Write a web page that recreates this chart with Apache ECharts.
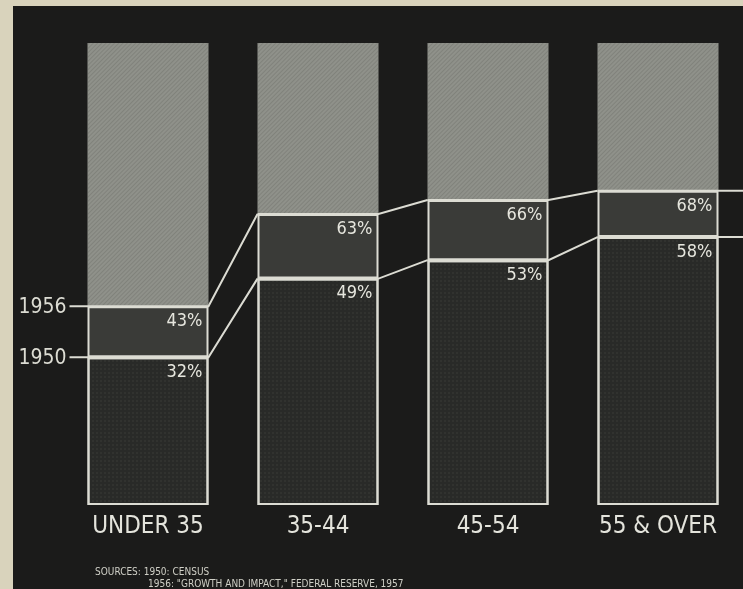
<!DOCTYPE html>
<html>
<head>
<meta charset="utf-8">
<script src="https://cdn.jsdelivr.net/npm/echarts@6/dist/echarts.min.js"></script>
<style>
  html, body { margin: 0; padding: 0; background: #d9d3bc; }
  #chart { width: 743px; height: 589px; }
</style>
</head>
<body>
<div id="chart"></div>
<script>
// data
const categories = ['UNDER 35', '35-44', '45-54', '55 & OVER']
const share1950 = [32, 49, 53, 58]
const share1956 = [43, 63, 66, 68]
const sourceLines = ['SOURCES: 1950: CENSUS', '1956: "GROWTH AND IMPACT," FEDERAL RESERVE, 1957']

const gain = share1956.map((v, i) => v - share1950[i])
const rest = share1956.map((v) => 100 - v)

const font = '"DejaVu Sans Condensed", "Liberation Sans Narrow", "DejaVu Sans", sans-serif'
const ink = '#dcdcd3'
const barWidth = 121
const half = barWidth / 2

const chart = echarts.init(document.getElementById('chart'))

// white step line joining the level of each bar, with the year tag on the left
const stepLine = (values, year) => (params, api) => {
  const i = params.dataIndex
  const p = api.coord([i, values[i]])
  const pts = [[p[0] - half, p[1]], [p[0] + half, p[1]]]
  if (i < values.length - 1) {
    const q = api.coord([i + 1, values[i + 1]])
    pts.push([q[0] - half, q[1]])
  } else {
    pts.push([api.getWidth(), p[1]])
  }
  const children = []
  if (i === 0) {
    pts.unshift([p[0] - half - 18, p[1]])
    children.push({
      type: 'text',
      style: {
        text: year,
        x: p[0] - half - 21,
        y: p[1] + 1,
        align: 'right',
        verticalAlign: 'middle',
        fill: ink,
        fontSize: 21,
        fontFamily: font,
      },
    })
  }
  children.push({
    type: 'polyline',
    shape: { points: pts },
    style: { stroke: ink, lineWidth: 2, fill: null },
  })
  return { type: 'group', children }
}

const pctLabel = (arr) => ({
  show: true,
  position: 'insideTopRight',
  distance: 6,
  formatter: (p) => arr[p.dataIndex] + '%',
  color: '#e6e6de',
  fontSize: 18,
  fontFamily: font,
})

chart.setOption({
  backgroundColor: '#d9d3bc',
  animation: false,
  grid: { left: 63, top: 43, width: 684, height: 462 },
  graphic: [
    { type: 'rect', z: -10, shape: { x: 13, y: 6, width: 730, height: 583 }, style: { fill: '#1b1b1a' } },
    { type: 'text', z: 10, style: { text: sourceLines[0], x: 95, y: 572, verticalAlign: 'middle', fill: '#cfcfc6', fontSize: 10, fontFamily: font } },
    { type: 'text', z: 10, style: { text: sourceLines[1], x: 148, y: 584, verticalAlign: 'middle', fill: '#cfcfc6', fontSize: 10, fontFamily: font } },
  ],
  xAxis: {
    type: 'category',
    data: categories,
    axisLine: { show: false },
    axisTick: { show: false },
    axisLabel: { color: '#e4e4dc', fontSize: 24, margin: 10, fontFamily: font },
  },
  yAxis: { type: 'value', min: 0, max: 100, show: false },
  series: [
    {
      name: '1950',
      type: 'bar',
      stack: 'share',
      barWidth,
      data: share1950,
      itemStyle: {
        color: '#292a28',
        borderColor: ink,
        borderWidth: 2,
        decal: { symbol: 'circle', symbolSize: 0.7, dashArrayX: 2, dashArrayY: 2, color: 'rgba(120,120,112,0.3)' },
      },
      label: pctLabel(share1950),
    },
    {
      name: '1956',
      type: 'bar',
      stack: 'share',
      barWidth,
      data: gain,
      itemStyle: { color: '#3a3b38', borderColor: ink, borderWidth: 2 },
      label: pctLabel(share1956),
    },
    {
      name: 'rest',
      type: 'bar',
      stack: 'share',
      barWidth,
      data: rest,
      itemStyle: {
        color: '#8f918a',
        decal: { symbol: 'rect', symbolSize: 1, dashArrayX: [1, 0], dashArrayY: [1, 2], rotation: -Math.PI / 4, color: 'rgba(70,70,64,0.2)' },
      },
    },
    {
      type: 'custom',
      z: 5,
      renderItem: stepLine(share1956, '1956'),
      encode: { x: 0, y: 1 },
      data: share1956.map((v, i) => [i, v]),
    },
    {
      type: 'custom',
      z: 5,
      renderItem: stepLine(share1950, '1950'),
      encode: { x: 0, y: 1 },
      data: share1950.map((v, i) => [i, v]),
    },
  ],
})
</script>
</body>
</html>
